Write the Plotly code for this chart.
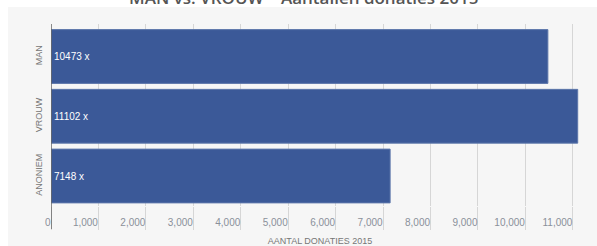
import plotly.graph_objects as go

categories = ["MAN", "VROUW", "ANONIEM"]
values = [10473, 11102, 7148]
tick_values = [0, 1000, 2000, 3000, 4000, 5000, 6000, 7000, 8000, 9000, 10000, 11000]
tick_labels = ["0", "1,000", "2,000", "3,000", "4,000", "5,000", "6,000",
               "7,000", "8,000", "9,000", "10,000", "11,000"]
bar_labels = [f"{v} x" for v in values]
title_text = "MAN vs. VROUW – Aantallen donaties 2015"

FONT = "Liberation Sans, Arial, sans-serif"

fig = go.Figure(go.Bar(
    x=values, y=categories, orientation="h",
    marker=dict(color="#3b5998", line=dict(color="#5c76aa", width=1)),
    text=bar_labels, textposition="inside", insidetextanchor="start",
    textfont=dict(color="white", size=10, family=FONT),
    hoverinfo="skip",
))

fig.update_layout(
    width=597, height=246,
    margin=dict(l=51, r=8, t=24, b=40, autoexpand=False),
    paper_bgcolor="white",
    plot_bgcolor="rgba(0,0,0,0)",
    bargap=0.1,
    showlegend=False,
    font=dict(family=FONT, color="#777"),
    xaxis=dict(
        automargin=False,
        range=[0, 11340],
        tickvals=tick_values, ticktext=tick_labels,
        showgrid=True, gridcolor="#d6d6d6", gridwidth=1,
        ticks="outside", ticklen=23, tickcolor="#d6d6d6", tickwidth=1,
        ticklabelposition="outside left", ticklabelstandoff=7,
        tickfont=dict(size=10, color="#8a909a"),
        zeroline=False, showline=False,
        title=dict(text="AANTAL DONATIES 2015", font=dict(size=9, color="#777"), standoff=10),
    ),
    yaxis=dict(
        automargin=False,
        categoryorder="array", categoryarray=categories,
        range=[2.502, -0.544],
        tickangle=-90,
        ticklabelstandoff=6,
        tickfont=dict(size=9, color="#777"),
        showgrid=False, zeroline=False, showline=False, ticks="",
    ),
    annotations=[
        dict(text=title_text, xref="paper", yref="paper", x=0.47, y=1,
             xanchor="center", yanchor="middle", yshift=27, showarrow=False,
             font=dict(size=17, color="#555", family="Open Sans, sans-serif", weight=600)),
    ],
    shapes=[
        dict(type="rect", xref="paper", yref="paper", x0=-0.0799, x1=1.02,
             y0=-0.3, y1=1.093, fillcolor="#f6f6f6", line=dict(width=0), layer="below"),
        dict(type="line", xref="x", yref="paper", x0=0, x1=0, y0=-0.1264, y1=1,
             line=dict(color="#666", width=1.5)),
    ],
)

fig.write_html("out.html", config={"displayModeBar": False},
               post_script="document.body.style.margin='0';")
